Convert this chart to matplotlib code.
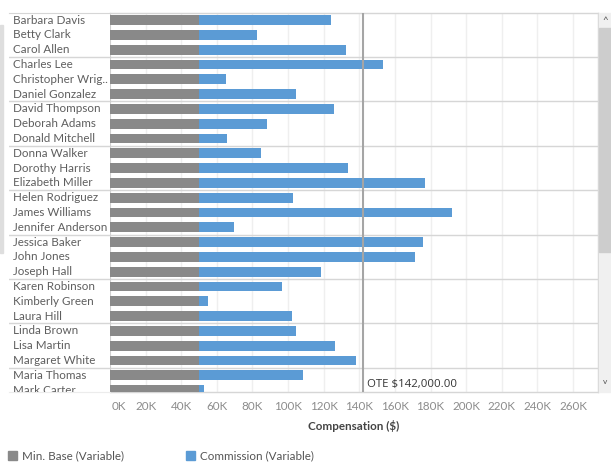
import matplotlib
matplotlib.use("Agg")
import matplotlib.pyplot as plt
from matplotlib.patches import Rectangle

plt.rcParams['font.family'] = ['Lato', 'DejaVu Sans']

names = ["Barbara Davis", "Betty Clark", "Carol Allen", "Charles Lee",
         "Christopher Wrig..", "Daniel Gonzalez", "David Thompson", "Deborah Adams",
         "Donald Mitchell", "Donna Walker", "Dorothy Harris", "Elizabeth Miller",
         "Helen Rodriguez", "James Williams", "Jennifer Anderson", "Jessica Baker",
         "John Jones", "Joseph Hall", "Karen Robinson", "Kimberly Green",
         "Laura Hill", "Linda Brown", "Lisa Martin", "Margaret White",
         "Maria Thomas", "Mark Carter"]
min_base = [50000] * 26
commission = [74000, 32500, 82500, 103500, 15000, 54500, 76000, 38000,
              15500, 35000, 83500, 127000, 53000, 142000, 19500, 126000,
              121000, 68500, 46500, 5000, 52000, 54500, 76500, 88000,
              58500, 2500]
ote = 142000
xticks = [0, 20000, 40000, 60000, 80000, 100000, 120000, 140000, 160000,
          180000, 200000, 220000, 240000, 260000]
xtick_labels = ["0K", "20K", "40K", "60K", "80K", "100K", "120K", "140K", "160K",
                "180K", "200K", "220K", "240K", "260K"]

W, H = 611, 462
fig = plt.figure(figsize=(W / 100, H / 100), dpi=100)

def fx(px):
    return px / W

def fy(py):
    return 1 - py / H

top_px, bot_px = 12.7, 392.3
plot_l, plot_r = 110, 598
lab_l = 9

ax = fig.add_axes([fx(plot_l), fy(bot_px), fx(plot_r - plot_l), (bot_px - top_px) / H])
axl = fig.add_axes([fx(lab_l), fy(bot_px), fx(plot_l - lab_l), (bot_px - top_px) / H])

ylim = (25.15, -0.5)
gray = "#898989"
blue = "#5b9bd5"
sep = "#d6d6d6"

y = list(range(len(names)))
ax.barh(y, min_base, height=0.66, color=gray, zorder=3)
ax.barh(y, commission, left=min_base, height=0.66, color=blue, zorder=3)
ax.set_xlim(0, 274000)
ax.set_ylim(*ylim)
for xv in xticks[1:]:
    ax.axvline(xv, color="#efefef", lw=1, zorder=1)
ax.axvline(ote, color="#a5a5a5", lw=1.5, zorder=4)
for k in range(2, len(names), 3):
    ax.axhline(k + 0.5, color=sep, lw=1, zorder=2)
    axl.axhline(k + 0.5, color=sep, lw=1, zorder=2)
ax.set_yticks([])
ax.set_xticks([])
for s in ["top", "right", "bottom"]:
    ax.spines[s].set_color(sep)
    ax.spines[s].set_linewidth(1)
ax.spines["left"].set_color("#d0d0d0")

ax.text(ote + 2500, 24.65, "OTE $142,000.00", fontsize=8.2, color="#333333",
        va="center", ha="left", zorder=5, family=["Open Sans", "DejaVu Sans"])

axl.set_xlim(0, 1)
axl.set_ylim(*ylim)
axl.set_xticks([])
axl.set_yticks([])
for s in ["right", "left"]:
    axl.spines[s].set_visible(False)
axl.spines["top"].set_color(sep)
axl.spines["bottom"].set_color("#ececec")
for i, n in enumerate(names):
    axl.text(4 / 101, i, n, fontsize=8.4, color="#5e5e5e", va="center", ha="left",
             clip_on=True)

# x tick labels
trans = ax.get_xaxis_transform()
for xv, lab in zip(xticks, xtick_labels):
    ha = "left" if xv == 0 else "center"
    ax.text(xv if xv else 1000, -0.037, lab, transform=trans, ha=ha, va="center",
            fontsize=8.4, color="#8c8c8c", clip_on=False)

fig.text(fx(354), fy(426.5), "Compensation ($)", ha="center", va="center",
         fontsize=8.4, color="#444444", fontweight="bold")

# legend
fig.patches.append(Rectangle((fx(8), fy(460)), fx(9), 9 / H, transform=fig.transFigure,
                             color=gray))
fig.text(fx(22), fy(455.5), "Min. Base (Variable)", ha="left", va="center",
         fontsize=8.4, color="#555555")
fig.patches.append(Rectangle((fx(186), fy(460)), fx(9), 9 / H, transform=fig.transFigure,
                             color=blue))
fig.text(fx(200), fy(455.5), "Commission (Variable)", ha="left", va="center",
         fontsize=8.4, color="#555555")

# scrollbar
fig.patches.append(Rectangle((fx(598.5), fy(392)), fx(12.5), (392 - 13) / H,
                             transform=fig.transFigure, color="#f0f0f0", zorder=0))
fig.patches.append(Rectangle((fx(599), fy(252)), fx(12), (252 - 28) / H,
                             transform=fig.transFigure, color="#cdcdcd", zorder=1))
fig.text(fx(605), fy(20), "^", ha="center", va="center", fontsize=7, color="#555555")
fig.text(fx(605), fy(382), "v", ha="center", va="center", fontsize=6, color="#555555")
# left faint strip
fig.patches.append(Rectangle((0, fy(253)), fx(2.7), (253 - 25) / H,
                             transform=fig.transFigure, color="#dedede", zorder=0))

fig.savefig("out.png", dpi=100)
